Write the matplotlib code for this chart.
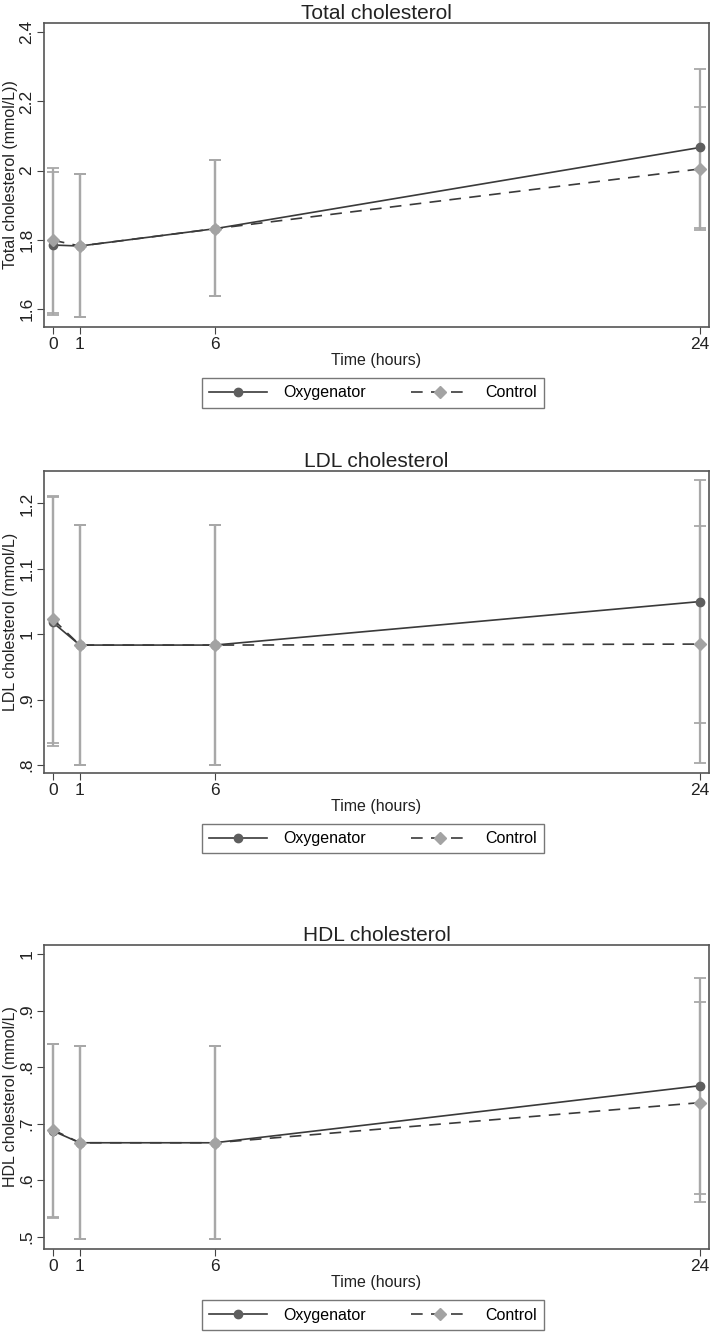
import matplotlib.pyplot as plt
from matplotlib.lines import Line2D

plt.rcParams['font.family'] = ['Liberation Sans', 'DejaVu Sans']

hours = [0, 1, 6, 24]

# Total cholesterol
tc_oxy = [1.785, 1.782, 1.832, 2.067]
tc_oxy_lo = [1.582, 1.577, 1.638, 1.835]
tc_oxy_hi = [1.997, 1.991, 2.031, 2.295]
tc_ctl = [1.799, 1.782, 1.832, 2.005]
tc_ctl_lo = [1.588, 1.577, 1.638, 1.828]
tc_ctl_hi = [2.007, 1.991, 2.031, 2.185]

# LDL cholesterol
ldl_oxy = [1.018, 0.9835, 0.9835, 1.050]
ldl_oxy_lo = [0.829, 0.800, 0.800, 0.864]
ldl_oxy_hi = [1.210, 1.167, 1.167, 1.235]
ldl_ctl = [1.023, 0.9835, 0.9835, 0.985]
ldl_ctl_lo = [0.834, 0.800, 0.800, 0.804]
ldl_ctl_hi = [1.212, 1.167, 1.167, 1.166]

# HDL cholesterol
hdl_oxy = [0.687, 0.666, 0.666, 0.767]
hdl_oxy_lo = [0.533, 0.495, 0.495, 0.5755]
hdl_oxy_hi = [0.840, 0.838, 0.838, 0.957]
hdl_ctl = [0.689, 0.666, 0.666, 0.737]
hdl_ctl_lo = [0.534, 0.495, 0.495, 0.561]
hdl_ctl_hi = [0.841, 0.838, 0.838, 0.915]

panels = [
    ('Total cholesterol', 'Total cholesterol (mmol/L))', [1.6, 1.8, 2.0, 2.2, 2.4],
     ['1.6', '1.8', '2', '2.2', '2.4'], (1.548, 2.427),
     tc_oxy, tc_oxy_lo, tc_oxy_hi, tc_ctl, tc_ctl_lo, tc_ctl_hi, [0.7547, 0.9828]),
    ('LDL cholesterol', 'LDL cholesterol (mmol/L)', [0.8, 0.9, 1.0, 1.1, 1.2],
     ['.8', '.9', '1', '1.1', '1.2'], (0.788, 1.250),
     ldl_oxy, ldl_oxy_lo, ldl_oxy_hi, ldl_ctl, ldl_ctl_lo, ldl_ctl_hi, [0.4201, 0.6469]),
    ('HDL cholesterol', 'HDL cholesterol (mmol/L)', [0.5, 0.6, 0.7, 0.8, 0.9, 1.0],
     ['.5', '.6', '.7', '.8', '.9', '1'], (0.478, 1.016),
     hdl_oxy, hdl_oxy_lo, hdl_oxy_hi, hdl_ctl, hdl_ctl_lo, hdl_ctl_hi, [0.0630, 0.2911]),
]

dark = '#3a3a3a'
oxy_mk = '#5e5e5e'
ctl_mk = '#a3a3a3'
bar_c = '#a8a8a8'

fig = plt.figure(figsize=(7.12, 13.33), dpi=100)

for title, ylab, yt, ytl, ylim, oxy, oxy_lo, oxy_hi, ctl, ctl_lo, ctl_hi, (b, t) in panels:
    ax = fig.add_axes([0.0618, b, 0.934, t - b])
    ax.errorbar(hours, oxy, yerr=[[m - l for m, l in zip(oxy, oxy_lo)], [h - m for m, h in zip(oxy, oxy_hi)]],
                fmt='none', ecolor=bar_c, elinewidth=1.6, capsize=4, capthick=1.3, zorder=1)
    ax.errorbar(hours, ctl, yerr=[[m - l for m, l in zip(ctl, ctl_lo)], [h - m for m, h in zip(ctl, ctl_hi)]],
                fmt='none', ecolor=bar_c, elinewidth=1.6, capsize=4, capthick=1.3, zorder=1)
    ax.plot(hours, oxy, color=dark, lw=1.2, marker='o', ms=6, mfc=oxy_mk, mec=oxy_mk, zorder=3)
    ax.plot(hours, ctl, color=dark, lw=1.2, ls=(0, (7, 5)), marker='D', ms=6, mfc=ctl_mk, mec=ctl_mk, zorder=3)
    ax.set_xlim(-0.33, 24.33)
    ax.set_ylim(*ylim)
    ax.set_xticks(hours)
    ax.set_yticks(yt)
    ax.set_yticklabels(ytl, rotation=90, va='center')
    ax.tick_params(labelsize=12.5, length=5, color='#444444', labelcolor='#222222', pad=2)
    for s in ax.spines.values():
        s.set_color('#555555')
        s.set_linewidth(1.2)
    ax.set_title(title, fontsize=15, color='#222222', pad=2)
    ax.set_xlabel('Time (hours)', fontsize=11.5, color='#222222', labelpad=1)
    ax.set_ylabel(ylab, fontsize=11.5, color='#222222')
    ax.yaxis.set_label_coords(-0.039, 0.5)
    handles = [
        Line2D([], [], color=dark, lw=1.2, marker='o', ms=6, mfc=oxy_mk, mec=oxy_mk),
        Line2D([], [], color=dark, lw=1.2, ls=(0, (7, 5)), marker='D', ms=6, mfc=ctl_mk, mec=ctl_mk),
    ]
    leg = ax.legend(handles, ['Oxygenator', 'Control'], loc='center', bbox_to_anchor=(0.495, -0.217),
                    ncol=2, frameon=True, fancybox=False, fontsize=11.5, handlelength=3.6,
                    columnspacing=2.8, handletextpad=1.05, borderpad=0.45)
    leg.get_frame().set_edgecolor('#555555')
    leg.get_frame().set_linewidth(1.0)

fig.savefig('out.png', dpi=100)
